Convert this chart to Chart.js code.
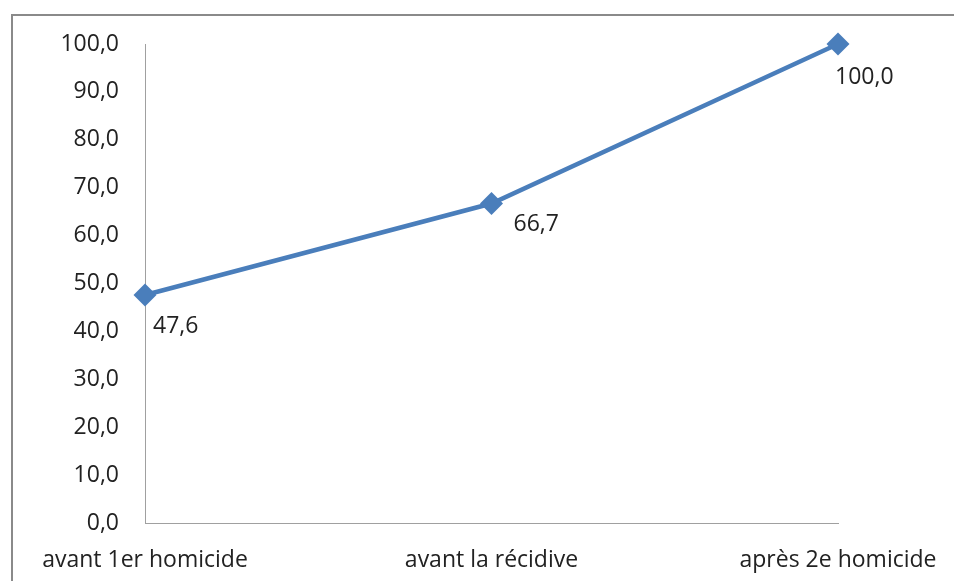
<!DOCTYPE html>
<html><head><meta charset="utf-8">
<script src="https://cdn.jsdelivr.net/npm/chart.js@4"></script>
<style>html,body{margin:0;padding:0;background:#fff;}#wrap{width:954px;height:581px;position:relative;}</style>
</head><body><div id="wrap"><canvas id="c" width="954" height="581"></canvas></div>
<script>
const categories = ["avant 1er homicide", "avant la récidive", "après 2e homicide"];
const values = [47.6, 66.7, 100.0];
const yTicks = [0, 10, 20, 30, 40, 50, 60, 70, 80, 90, 100];

const FONT = "'Open Sans', sans-serif";
const FSIZE = 23;
const fmt = v => v.toFixed(1).replace('.', ',');

const frame = {
  id: 'frame',
  beforeDraw(chart) {
    const ctx = chart.ctx;
    ctx.save();
    ctx.fillStyle = '#fff';
    ctx.fillRect(0, 0, chart.width, chart.height);
    ctx.strokeStyle = '#8a8a8a';
    ctx.lineWidth = 2;
    ctx.strokeRect(12, 15, chart.width + 20, chart.height + 20);
    ctx.restore();
  }
};

const labelOffsets = [[8, 31], [22, 21], [-3, 33]];
const dataLabels = {
  id: 'dataLabels',
  afterDatasetsDraw(chart) {
    const ctx = chart.ctx;
    const meta = chart.getDatasetMeta(0);
    ctx.save();
    ctx.font = FSIZE + 'px ' + FONT;
    ctx.fillStyle = '#222';
    ctx.textAlign = 'left';
    ctx.textBaseline = 'middle';
    meta.data.forEach((pt, i) => {
      const o = labelOffsets[i];
      ctx.fillText(fmt(values[i]), pt.x + o[0], pt.y + o[1]);
    });
    ctx.restore();
  }
};

new Chart(document.getElementById('c'), {
  type: 'line',
  data: {
    labels: categories,
    datasets: [{
      data: values,
      borderColor: '#4a7ebb',
      backgroundColor: '#4a7ebb',
      borderWidth: 4.5,
      pointStyle: 'rectRot',
      pointRadius: 11.5,
      pointHoverRadius: 11.5,
      pointBorderWidth: 0,
      tension: 0,
      clip: false
    }]
  },
  options: {
    responsive: false,
    animation: false,
    devicePixelRatio: 1,
    layout: { padding: { top: 44, right: 116, left: 0, bottom: 0 } },
    plugins: { legend: { display: false }, tooltip: { enabled: false } },
    scales: {
      x: {
        offset: false,
        grid: { display: false, drawTicks: false },
        border: { color: '#a0a0a0', width: 1 },
        ticks: { color: '#222', font: { family: FONT, size: FSIZE }, padding: 24, maxRotation: 0, autoSkip: false },
        afterFit(s) { s.height = 58; s.paddingLeft = 0; s.paddingRight = 0; }
      },
      y: {
        min: 0, max: 100,
        afterBuildTicks(s) { s.ticks = yTicks.map(v => ({ value: v })); },
        grid: { display: false, drawTicks: false },
        border: { color: '#a0a0a0', width: 1 },
        ticks: { color: '#222', font: { family: FONT, size: FSIZE }, padding: 26, callback: v => fmt(v) },
        afterFit(s) { s.width = 145; s.paddingTop = 0; s.paddingBottom = 0; }
      }
    }
  },
  plugins: [frame, dataLabels]
});
</script></body></html>
